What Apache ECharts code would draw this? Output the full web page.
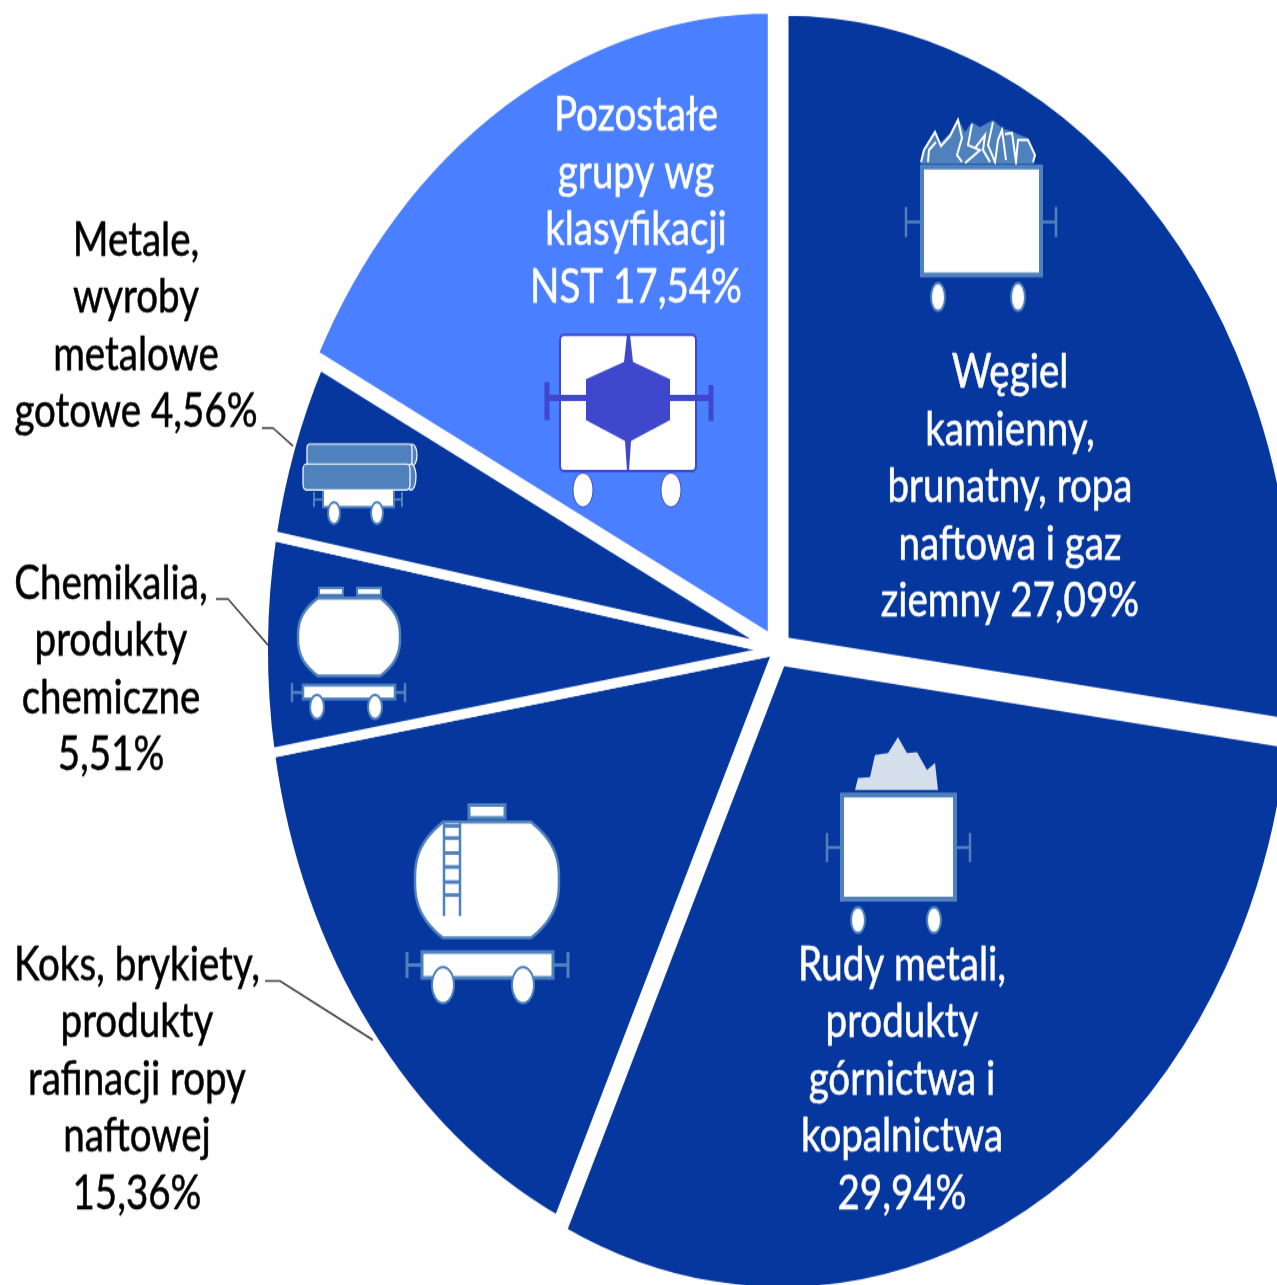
<!DOCTYPE html>
<html>
<head>
<meta charset="utf-8">
<style>
  html, body { margin: 0; padding: 0; background: #fff; overflow: hidden; }
  #chart { position: absolute; left: 0; top: 0; width: 1277px; transform-origin: 0 0; }
</style>
<script src="https://cdn.jsdelivr.net/npm/echarts@6/dist/echarts.min.js"></script>
</head>
<body>
<div id="chart"></div>
<script>
const categories = [
  'Węgiel\nkamienny,\nbrunatny, ropa\nnaftowa i gaz\nziemny',
  'Rudy metali,\nprodukty\ngórnictwa i\nkopalnictwa\n',
  'Koks, brykiety,\nprodukty\nrafinacji ropy\nnaftowej\n',
  'Chemikalia,\nprodukty\nchemiczne\n',
  'Metale,\nwyroby\nmetalowe\ngotowe',
  'Pozostałe\ngrupy wg\nklasyfikacji\nNST'
]
const values = [27.09, 29.94, 15.36, 5.51, 4.56, 17.54]
const exploded = [true, true, false, false, false, true]

// the reference is a chart stretched vertically, so the whole canvas gets stretched
const STRETCH = 1.23
const Y = y => y / STRETCH

const DARK = '#05379f'
const LIGHT = '#4a7fff'
const EDGE = '#4f81bd'
const HEX = '#3f48cc'

// label anchors in screen pixels
const labelPos = [[1010, 487], [902, 1079], [137, 1079], [111, 669], [136, 326], [636, 201]]
const labelColors = ['#fff', '#fff', '#000', '#000', '#000', '#fff']
const leaders = [
  [[265, 981], [280, 981], [373, 1040]],
  [[216, 599], [228, 599], [268, 645]],
  [[262, 428], [273, 428], [293, 446]]
]

const el = document.getElementById('chart')
el.style.height = Y(1285) + 'px'
el.style.transform = 'scaleY(' + STRETCH + ')'

function rect(x1, y1, x2, y2, fill, stroke, lw, r) {
  return { type: 'rect', shape: { x: x1, y: Y(y1), width: x2 - x1, height: Y(y2) - Y(y1), r: r || 0 },
    style: { fill: fill, stroke: stroke || null, lineWidth: lw || 0 } }
}
function oval(cx, cy, rx, ry, fill, stroke, lw) {
  return { type: 'ellipse', shape: { cx: cx, cy: Y(cy), rx: rx, ry: Y(ry) },
    style: { fill: fill, stroke: stroke, lineWidth: lw } }
}
function wheel(cx, cy, rx, ry, stroke) {
  return oval(cx, cy, rx, ry, '#fff', stroke || EDGE, 2)
}
function poly(pts, fill, stroke, lw) {
  return { type: 'polygon', shape: { points: pts.map(p => [p[0], Y(p[1])]) },
    style: { fill: fill, stroke: stroke || null, lineWidth: lw || 0 } }
}
function line(pts, stroke, lw) {
  return { type: 'polyline', shape: { points: pts.map(p => [p[0], Y(p[1])]) },
    style: { fill: null, stroke: stroke, lineWidth: lw } }
}
function buffers(xl, xr, xl2, xr2, y1, y2, stroke, lw) {
  const m = (y1 + y2) / 2
  return [
    line([[xl, y1], [xl, y2]], stroke, lw), line([[xr, y1], [xr, y2]], stroke, lw),
    line([[xl, m], [xl2, m]], stroke, lw), line([[xr2, m], [xr, m]], stroke, lw)
  ]
}
// tank outline, sides bulge out towards the middle
function barrel(x1, y1, x2, y2, inset, stroke) {
  const m = (y1 + y2) / 2, h = (y2 - y1) / 2
  const right = [], left = []
  for (let k = 0; k <= 40; k++) {
    const t = -1 + k / 20
    const bend = inset * Math.pow(Math.abs(t), 2.6)
    right.push([x2 - bend, m + t * h])
    left.unshift([x1 + bend, m + t * h])
  }
  return poly(right.concat(left), '#fff', stroke, 2.5)
}

function wagonIcons() {
  const out = []
  // coal
  out.push(poly([[921, 164], [922, 152], [935, 130], [940, 143], [950, 133], [958, 118], [965, 132], [972, 122], [980, 127],
    [993, 120], [1002, 128], [1013, 132], [1028, 138], [1035, 153], [1034, 164]], EDGE))
  out.push(line([[921, 162], [924, 150], [935, 132], [941, 146], [950, 136], [958, 120], [962, 138], [957, 155], [962, 162]], '#fff', 2))
  out.push(line([[928, 162], [929, 150], [936, 142]], '#fff', 2))
  out.push(line([[972, 124], [968, 145], [980, 150], [965, 163]], '#fff', 2))
  out.push(line([[993, 122], [988, 145], [995, 162], [998, 140], [1002, 130], [1006, 160]], '#fff', 2))
  out.push(line([[1005, 134], [1012, 133], [1016, 162], [1018, 140], [1028, 140], [1035, 155], [1033, 162]], '#fff', 2))
  out.push(line([[975, 148], [985, 135], [983, 150], [990, 162]], '#fff', 2))
  out.push(...buffers(906, 1056, 922, 1041, 207, 237, EDGE, 2.5))
  out.push(rect(922, 167, 1041, 275, '#fff', EDGE, 4))
  out.push(wheel(938, 297, 7, 14), wheel(1018, 297, 7, 14))
  // other goods
  out.push(rect(560, 335, 696, 471, '#fff', HEX, 2, 4))
  out.push(line([[545, 398], [712, 398]], HEX, 5))
  out.push(line([[547, 382], [547, 420]], HEX, 5), line([[711, 385], [711, 421]], HEX, 5))
  out.push(poly([[627, 335], [630, 335], [633, 362], [670, 379], [670, 420], [631, 441], [629, 471], [627, 471], [625, 441],
    [586, 420], [586, 379], [624, 362]], HEX))
  out.push(oval(583, 490, 10, 17, '#fff', HEX, 1), oval(671, 490, 10, 17, '#fff', HEX, 1))
  // ore
  out.push(poly([[855, 790], [858, 778], [870, 777], [875, 755], [888, 753], [898, 737], [907, 753], [917, 752], [927, 770],
    [935, 763], [938, 790]], '#d5dfec'))
  out.push(...buffers(827, 970, 842, 955, 833, 862, EDGE, 2.5))
  out.push(rect(842, 795, 955, 899, '#fff', EDGE, 4))
  out.push(wheel(858, 920, 7, 13), wheel(934, 920, 7, 13))
  // tank
  out.push(rect(469, 805, 505, 818, '#fff', EDGE, 3))
  out.push(barrel(415, 822, 559, 938, 28, EDGE))
  out.push(line([[444, 822], [444, 916]], EDGE, 2.5), line([[460, 822], [460, 916]], EDGE, 2.5))
  ;[826, 838, 853, 867, 882, 895].forEach(y => out.push(line([[444, y], [460, y]], EDGE, 3)))
  out.push(...buffers(407, 568, 422, 553, 952, 978, EDGE, 3))
  out.push(rect(422, 952, 553, 978, '#fff', EDGE, 3))
  out.push(wheel(443, 985, 11, 18), wheel(523, 985, 11, 18))
  // pipes
  out.push(...buffers(314, 402, 323, 394, 492, 507, EDGE, 2))
  out.push(rect(323, 489, 394, 507, '#fff', EDGE, 2))
  out.push(wheel(334, 513, 6, 11), wheel(377, 513, 6, 11))
  out.push(oval(412, 455, 5, 11, EDGE, '#fff', 1.2))
  out.push(rect(307, 444, 412, 466, EDGE, '#fff', 1.2, 3))
  out.push(oval(411, 477, 5, 13, EDGE, '#fff', 1.2))
  out.push(rect(303, 464, 410, 490, EDGE, '#fff', 1.2, 4))
  // chemicals
  out.push(rect(319, 588, 343, 595, '#fff', EDGE, 2), rect(357, 588, 381, 595, '#fff', EDGE, 2))
  out.push(barrel(298, 598, 400, 676, 20, EDGE))
  out.push(...buffers(292, 405, 303, 395, 683, 702, EDGE, 2.5))
  out.push(rect(303, 685, 395, 699, '#fff', EDGE, 2.5))
  out.push(wheel(317, 707, 7, 12), wheel(375, 707, 7, 12))
  return out
}

function labelTexts() {
  return categories.map((c, i) => ({
    type: 'text',
    x: labelPos[i][0],
    y: Y(labelPos[i][1]),
    style: {
      text: c + (c.endsWith('\n') ? '' : ' ') + values[i].toFixed(2).replace('.', ',') + '%',
      fill: labelColors[i],
      stroke: labelColors[i],
      lineWidth: 0.5,
      font: '38.5px Lato',
      lineHeight: 46.5,
      align: 'center',
      verticalAlign: 'middle'
    }
  }))
}

const chart = echarts.init(el, null, { renderer: 'canvas' })

const overlay = wagonIcons()
  .concat(leaders.map(p => line(p, '#404040', 1.5)))
  .concat(labelTexts())
overlay.forEach(g => { g.z = 10; g.silent = true })

chart.setOption({
  animation: false,
  tooltip: { show: false },
  graphic: { elements: overlay },
  series: [{
    type: 'pie',
    silent: true,
    z: 1,
    center: [777, Y(650)],
    radius: 513,
    startAngle: 90,
    clockwise: true,
    selectedMode: 'multiple',
    selectedOffset: 10,
    label: { show: false },
    labelLine: { show: false },
    itemStyle: { borderColor: '#fff', borderWidth: 8 },
    select: { itemStyle: { borderColor: '#fff', borderWidth: 8 } },
    data: categories.map((c, i) => ({
      name: c,
      value: values[i],
      selected: exploded[i],
      itemStyle: { color: i === 5 ? LIGHT : DARK },
      select: { itemStyle: { color: i === 5 ? LIGHT : DARK } }
    }))
  }]
})
</script>
</body>
</html>
